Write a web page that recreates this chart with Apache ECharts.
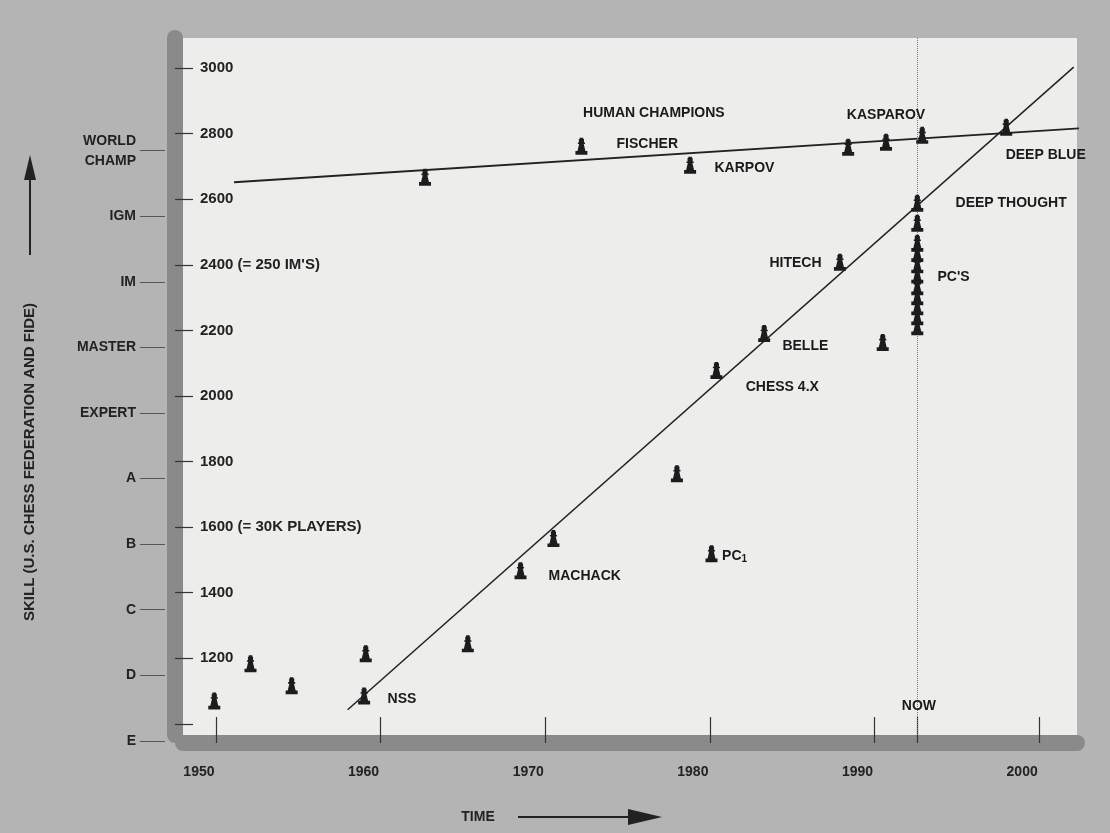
<!DOCTYPE html>
<html><head><meta charset="utf-8">
<script src="https://cdn.jsdelivr.net/npm/echarts@6/dist/echarts.min.js"></script>
<style>html,body{margin:0;padding:0;background:#b4b4b4}#c{width:1110px;height:833px}</style>
</head><body><div id="c"></div>
<script>
const yearTicks = [1950, 1960, 1970, 1980, 1990, 2000];
const skillTicks = [1000, 1200, 1400, 1600, 1800, 2000, 2200, 2400, 2600, 2800, 3000];
const skillTickLabels = {1200:'1200',1400:'1400',1600:'1600 (= 30K PLAYERS)',1800:'1800',2000:'2000',2200:'2200',2400:'2400 (= 250 IM\'S)',2600:'2600',2800:'2800',3000:'3000'};
const rankValues = [1000, 1200, 1400, 1600, 1800, 2000, 2200, 2400, 2600, 2800];
const rankLabels = ['E','D','C','B','A','EXPERT','MASTER','IM','IGM','WORLD\nCHAMP'];
const humanTrend = [[1951.1, 2652], [2002.7, 2817]];
const computerTrend = [[1958.0, 1043], [2002.1, 3003]];
const humanPoints = [[1962.7, 2667], [1972.2, 2762], [1978.8, 2704], [1988.4, 2759], [1990.7, 2774], [1992.9, 2795]];
const computerPoints = [[1949.9, 1070], [1952.1, 1183], [1954.6, 1116], [1959.1, 1214], [1959.0, 1085], [1965.3, 1244], [1968.5, 1467], [1970.5, 1565], [1978.0, 1763], [1980.1, 1519], [1980.4, 2078], [1983.3, 2191], [1987.9, 2408], [1990.5, 2163], [1992.6, 2588], [1998.0, 2820]];
const pcPoints = [[1992.6, 2527], [1992.6, 2466], [1992.6, 2435], [1992.6, 2400], [1992.6, 2369], [1992.6, 2333], [1992.6, 2303], [1992.6, 2272], [1992.6, 2242], [1992.6, 2211]];
const nowYear = 1992.6;
const annotations = [
  [1976.6, 2862, 'HUMAN CHAMPIONS'], [1990.7, 2856, 'KASPAROV'], [2000.4, 2734, 'DEEP BLUE'],
  [1998.3, 2588, 'DEEP THOUGHT'], [1985.2, 2405, 'HITECH'], [1994.8, 2362, "PC'S"],
  [1985.8, 2151, 'BELLE'], [1984.4, 2026, 'CHESS 4.X'], [1976.2, 2768, 'FISCHER'],
  [1982.1, 2695, 'KARPOV'], [1972.4, 1452, 'MACHACK'], [1981.5, 1513, 'PC{s|1}'],
  [1961.3, 1076, 'NSS'], [1992.7, 1055, 'NOW']
];
const pawn = 'path://M3.6,0h2.8v1.2h-2.8z M3,1.2h4v3.3h-4z M2.2,4.5h5.6v1.5h-5.6z M3.2,6h3.6l1.3,6.5h-6.2z M0.3,12.5h9.4v3.5h-9.4z';
const F = '"Liberation Sans", Arial, sans-serif';
const chart = echarts.init(document.getElementById('c'));
const pawnSeries = (d) => ({type:'scatter', data:d, symbol:pawn, symbolSize:[12,17], itemStyle:{color:'#1c1c1c', opacity:1}, z:5, silent:true});
const txt = {color:'#1a1a1a', fontFamily:F, fontWeight:'bold', fontSize:14};
chart.setOption({
  backgroundColor:'#b4b4b4', animation:false,
  grid:[
    {left:183, right:33, top:38, bottom:98, show:true, backgroundColor:'#ededeb', borderWidth:0},
    {left:183, right:33, top:55, bottom:81, show:false}
  ],
  xAxis:[
    {type:'value', min:1948, max:2002.3, offset:8, gridIndex:0,
      axisLine:{show:true, lineStyle:{color:'#8a8a8a', width:16}},
      axisTick:{show:true, inside:true, length:26, customValues:yearTicks.concat([nowYear]), lineStyle:{color:'#333', width:1.2}},
      axisLabel:{customValues:yearTicks, formatter:v=>String(v), margin:22, padding:[0,34,0,0], color:'#222', fontFamily:F, fontWeight:'bold', fontSize:14},
      splitLine:{show:false}},
    {type:'value', min:1948, max:2002.3, gridIndex:1, show:false}
  ],
  yAxis:[
    {type:'value', min:966, max:3092, offset:8, position:'left', gridIndex:0,
      axisLine:{show:true, lineStyle:{color:'#8a8a8a', width:16}},
      axisTick:{show:true, inside:true, length:18, customValues:skillTicks, lineStyle:{color:'#333', width:1.2}},
      axisLabel:{inside:true, margin:25, customValues:skillTicks, formatter:v=>skillTickLabels[v]||'', color:'#222', fontFamily:F, fontWeight:'bold', fontSize:15},
      splitLine:{show:false}},
    {type:'value', min:966, max:3092, offset:43, position:'left', gridIndex:1,
      axisLine:{show:false},
      axisTick:{show:true, inside:true, length:25, customValues:rankValues, lineStyle:{color:'#555', width:1}},
      axisLabel:{margin:4, customValues:rankValues, formatter:v=>rankLabels[rankValues.indexOf(v)]||'', color:'#222', fontFamily:F, fontWeight:'bold', fontSize:14, lineHeight:20},
      splitLine:{show:false}}
  ],
  graphic:[
    {type:'text', x:30, y:462, rotation:Math.PI/2, style:{text:'SKILL (U.S. CHESS FEDERATION AND FIDE)', align:'center', verticalAlign:'middle', fill:'#222', font:'bold 15px "Liberation Sans", Arial, sans-serif'}},
    {type:'line', shape:{x1:30, y1:255, x2:30, y2:175}, style:{stroke:'#222', lineWidth:2}},
    {type:'polygon', shape:{points:[[24,180],[36,180],[30,155]]}, style:{fill:'#222'}},
    {type:'text', x:478, y:817, style:{text:'TIME', align:'center', verticalAlign:'middle', fill:'#222', font:'bold 14px "Liberation Sans", Arial, sans-serif'}},
    {type:'line', shape:{x1:518, y1:817, x2:640, y2:817}, style:{stroke:'#222', lineWidth:2}},
    {type:'polygon', shape:{points:[[628,809],[628,825],[662,817]]}, style:{fill:'#222'}}
  ],
  series:[
    {type:'line', data:humanTrend, symbol:'none', lineStyle:{color:'#222', width:1.8}, silent:true},
    {type:'line', data:computerTrend, symbol:'none', lineStyle:{color:'#222', width:1.5}, silent:true,
      markLine:{silent:true, symbol:'none', label:{show:false}, lineStyle:{color:'#777', type:'dotted', width:1}, data:[{xAxis:nowYear}]}},
    pawnSeries(humanPoints), pawnSeries(computerPoints), pawnSeries(pcPoints),
    {type:'scatter', data:annotations, symbolSize:1, itemStyle:{color:'rgba(0,0,0,0)'}, silent:true, z:6,
      label:{show:true, position:'inside', formatter:p=>p.data[2], ...txt, opacity:1,
        rich:{s:{fontSize:10, verticalAlign:'bottom', padding:[8,0,0,0], fontFamily:F, fontWeight:'bold', color:'#1a1a1a'}}}}
  ]
});
</script></body></html>
